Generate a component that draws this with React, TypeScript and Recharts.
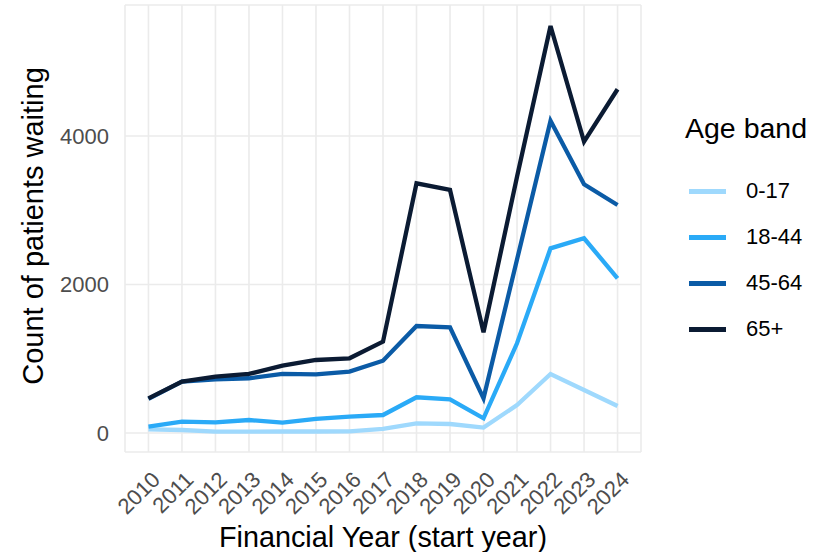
import React from 'react';
import { LineChart, Line, XAxis, YAxis, CartesianGrid } from 'recharts';

const years = [2010, 2011, 2012, 2013, 2014, 2015, 2016, 2017, 2018, 2019, 2020, 2021, 2022, 2023, 2024];
const age0_17 = [50, 40, 18, 18, 20, 20, 22, 54, 130, 121, 72, 377, 795, 579, 364];
const age18_44 = [85, 152, 144, 175, 139, 189, 220, 242, 481, 454, 198, 1208, 2487, 2622, 2083];
const age45_64 = [460, 691, 723, 737, 795, 790, 826, 974, 1441, 1423, 467, 2336, 4206, 3349, 3071];
const age65plus = [467, 691, 758, 795, 907, 983, 1006, 1230, 3363, 3273, 1356, 3450, 5481, 3923, 4629];
const yTicks = [0, 2000, 4000];

const seriesNames = ['0-17', '18-44', '45-64', '65+'];
const seriesColors = ['#9fd9fd', '#2aaaf7', '#0b5ba6', '#0b1b33'];
const seriesValues = [age0_17, age18_44, age45_64, age65plus];

const data = years.map((y, i) => {
  const row: any = { year: y };
  seriesNames.forEach((n, k) => { row[n] = seriesValues[k][i]; });
  return row;
});

const FONT = '"Liberation Sans", Arial, sans-serif';

const XTick = (props: any) => {
  const { x, y, payload } = props;
  const ax = x + 13;
  const ay = y + 21;
  return (
    <text
      x={ax}
      y={ay}
      transform={`rotate(-45, ${ax}, ${ay})`}
      textAnchor="end"
      fill="#4d4d4d"
      fontSize={22}
      fontFamily={FONT}
    >
      {payload.value}
    </text>
  );
};

const YTick = (props: any) => {
  const { y, payload } = props;
  return (
    <text x={109} y={y} dy="0.36em" textAnchor="end" fill="#4d4d4d" fontSize={22} fontFamily={FONT}>
      {payload.value}
    </text>
  );
};

const LegendBox = () => (
  <div style={{ position: 'absolute', left: 685, top: 112, width: 148, fontFamily: FONT, color: '#000' }}>
    <div style={{ fontSize: 28.5, lineHeight: '33px', marginBottom: 23 }}>Age band</div>
    {seriesNames.map((n, k) => (
      <div key={n} style={{ display: 'flex', alignItems: 'center', height: 46 }}>
        <div style={{ width: 37, height: 5, background: seriesColors[k], marginLeft: 4, marginRight: 20 }} />
        <span style={{ fontSize: 22 }}>{n}</span>
      </div>
    ))}
  </div>
);

export default function App() {
  return (
    <div style={{ position: 'absolute', left: 0, top: 0, width: 833, height: 552, background: '#fff' }}>
      <LineChart width={833} height={552} data={data} margin={{ top: 5, right: 192, left: 65, bottom: 70 }}>
        <CartesianGrid stroke="#ebebeb" strokeWidth={1.6} />
        <XAxis
          dataKey="year"
          type="number"
          domain={[2009.3, 2024.7]}
          ticks={years}
          interval={0}
          axisLine={false}
          tickLine={false}
          height={30}
          tick={<XTick />}
          label={{
            content: () => (
              <text x={383} y={547} textAnchor="middle" fontSize={28.8} fontFamily={FONT} fill="#000">
                Financial Year (start year)
              </text>
            ),
          }}
        />
        <YAxis
          type="number"
          domain={[-256, 5764]}
          ticks={yTicks}
          allowDataOverflow
          axisLine={false}
          tickLine={false}
          width={60}
          tick={<YTick />}
          label={{
            content: () => (
              <text
                x={43}
                y={226}
                transform="rotate(-90, 43, 226)"
                textAnchor="middle"
                fontSize={29}
                fontFamily={FONT}
                fill="#000"
              >
                Count of patients waiting
              </text>
            ),
          }}
        />
        {seriesNames.map((n, k) => (
          <Line
            key={n}
            type="linear"
            dataKey={n}
            stroke={seriesColors[k]}
            strokeWidth={4.3}
            dot={false}
            activeDot={false}
            isAnimationActive={false}
          />
        ))}
      </LineChart>
      <LegendBox />
    </div>
  );
}
